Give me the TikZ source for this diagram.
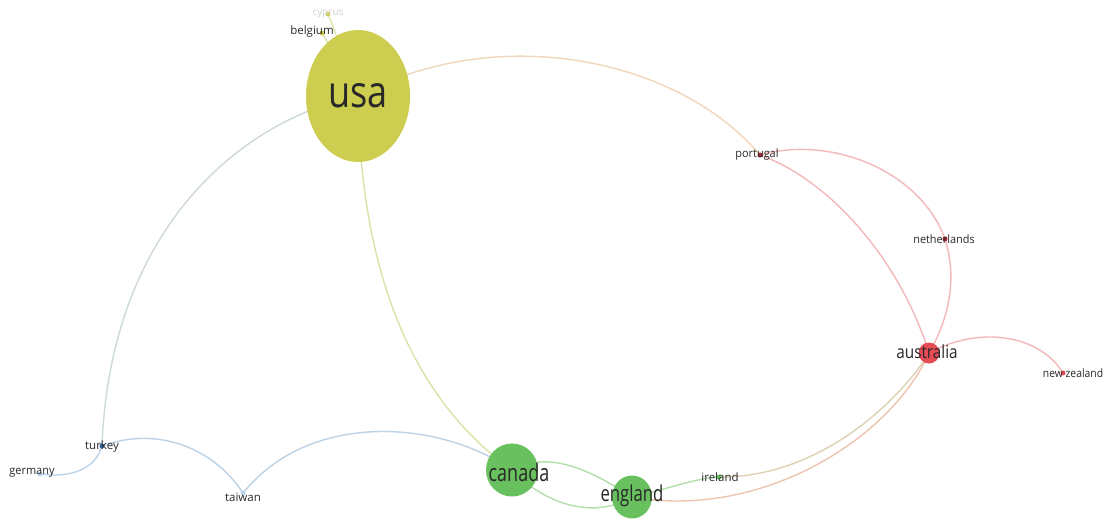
\documentclass[tikz,border=0pt]{standalone}
\usepackage{fontspec}
\setmainfont{Open Sans}
\usetikzlibrary{shapes.geometric,backgrounds}
\pgfdeclarelayer{edges}
\pgfsetlayers{background,edges,main}
\definecolor{usac}{RGB}{205,205,80}
\definecolor{grc}{RGB}{104,192,94}
\definecolor{redc}{RGB}{230,76,86}
\definecolor{bluc}{RGB}{50,110,170}
\definecolor{redd}{RGB}{170,40,60}
\definecolor{txt}{RGB}{40,40,40}
\definecolor{eYP}{RGB}{240,214,186}
\definecolor{eYB}{RGB}{205,218,215}
\definecolor{eYG}{RGB}{218,226,168}
\definecolor{eY}{RGB}{225,228,170}
\definecolor{eB}{RGB}{188,210,230}
\definecolor{eG}{RGB}{180,222,172}
\definecolor{eGR}{RGB}{222,210,182}
\definecolor{eR}{RGB}{242,184,186}
\definecolor{eRG}{RGB}{238,196,176}
\tikzset{
  dot/.style={circle, inner sep=0pt, minimum size=5pt, fill=#1},
  lbl/.style={inner sep=0pt, text=txt, font=\fontsize{11.5}{12}\selectfont},
  edge/.style={line width=1.4pt, draw=#1},
}
\begin{document}
\begin{tikzpicture}[x=1pt,y=-1pt]
\begin{pgfonlayer}{background}
\fill[white] (0,0) rectangle (1103,520);
\end{pgfonlayer}
\useasboundingbox (0,0) rectangle (1103,520);

% big nodes
\node[ellipse, fill=usac, minimum width=104pt, minimum height=132pt, inner sep=0pt, text=txt,
      font=\fontsize{44}{44}\selectfont] (usa) at (358,96) {\scalebox{0.82}[1]{usa}};
\node[ellipse, fill=grc, minimum width=52pt, minimum height=53pt, inner sep=0pt] (canada) at (512,470) {};
\node[ellipse, fill=grc, minimum width=40pt, minimum height=43pt, inner sep=0pt] (england) at (632,497) {};
\node[circle, fill=redc, minimum size=21pt, inner sep=0pt] (australia) at (929,353) {};

% small nodes
\node[dot=usac] (cyprus) at (328,14) {};
\node[dot=usac] (belgium) at (322,33) {};
\node[dot=redd] (portugal) at (760,155) {};
\node[dot=redd] (netherlands) at (945,239) {};
\node[dot=redc] (newzealand) at (1063,373) {};
\node[dot=bluc] (turkey) at (102,446) {};
\node[dot=eB] (germany) at (40,474) {};
\node[dot=eB] (taiwan) at (243,493) {};
\node[dot=grc] (ireland) at (719,477) {};

% labels
\node[lbl, text=black!18, font=\fontsize{10}{10}\selectfont] (cyprus-l) at (328,14) {cyprus};
\node[lbl] (belgium-l) at (312,32) {belgium};
\node[lbl] (portugal-l) at (757,155) {\scalebox{0.95}[1]{portugal}};
\node[lbl] (netherlands-l) at (944,239) {\scalebox{0.95}[1]{netherlands}};
\node[lbl] (newzealand-l) at (1073,373) {\scalebox{0.9}[1]{new zealand}};
\node[lbl] (turkey-l) at (102,447) {turkey};
\node[lbl] (germany-l) at (32,473) {\scalebox{0.95}[1]{germany}};
\node[lbl] (taiwan-l) at (243,497) {taiwan};
\node[lbl] (ireland-l) at (720,477) {ireland};
\node[lbl, font=\fontsize{18}{18}\selectfont] (australia-l) at (927,352) {\scalebox{0.85}[1]{australia}};
\node[lbl, font=\fontsize{24}{24}\selectfont] (canada-l) at (519,472) {\scalebox{0.75}[1]{canada}};
\node[lbl, font=\fontsize{22}{22}\selectfont] (england-l) at (632,496) {\scalebox{0.76}[1]{england}};

\begin{pgfonlayer}{edges}
\draw[edge=eYP] (usa.center) .. controls (500,20) and (680,60) .. (portugal.center);
\draw[edge=eYB] (usa.center) .. controls (240,120) and (110,230) .. (turkey.center);
\draw[edge=eYG] (usa.center) .. controls (360,250) and (400,390) .. (canada.center);
\draw[edge=eY] (usa.center) .. controls (345,60) and (335,30) .. (cyprus.center);
\draw[edge=eY] (usa.center) .. controls (340,70) and (330,45) .. (belgium.center);
\draw[edge=eR] (portugal.center) .. controls (830,135) and (920,170) .. (netherlands.center);
\draw[edge=eR] (netherlands.center) .. controls (958,280) and (948,320) .. (australia.center);
\draw[edge=eR] (portugal.center) .. controls (830,180) and (900,260) .. (australia.center);
\draw[edge=eR] (australia.center) .. controls (980,325) and (1040,335) .. (newzealand.center);
\draw[edge=eGR] (australia.center) .. controls (900,400) and (820,478) .. (ireland.center);
\draw[edge=eRG] (australia.center) .. controls (890,440) and (760,520) .. (england.center);
\draw[edge=eG] (england.center) .. controls (665,490) and (695,478) .. (ireland.center);
\draw[edge=eG] (canada.center) .. controls (550,450) and (590,470) .. (england.center);
\draw[edge=eG] (canada.center) .. controls (540,500) and (590,522) .. (england.center);
\draw[edge=eB] (turkey.center) .. controls (95,470) and (70,478) .. (germany.center);
\draw[edge=eB] (turkey.center) .. controls (160,425) and (215,450) .. (taiwan.center);
\draw[edge=eB] (taiwan.center) .. controls (310,410) and (440,420) .. (canada.center);
\end{pgfonlayer}
\end{tikzpicture}
\end{document}
